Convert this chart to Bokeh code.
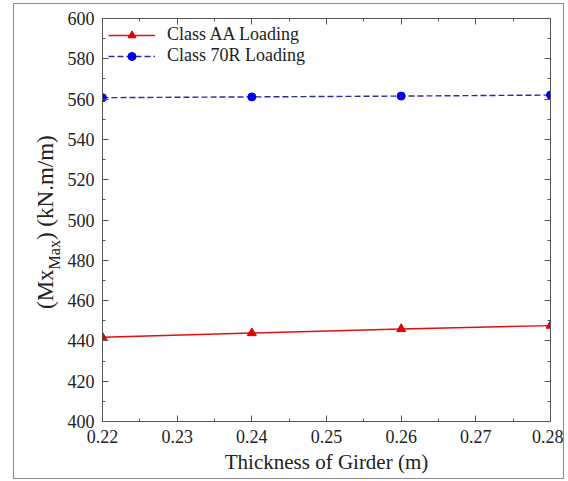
from bokeh.plotting import figure
from bokeh.models import (FixedTicker, LinearAxis, PrintfTickFormatter,
                          BasicTickFormatter, CustomJSTickFormatter, Range1d, Div)
from bokeh.layouts import row
from bokeh.embed import file_html
from bokeh.resources import INLINE

# ---- data ----
thickness = [0.22, 0.24, 0.26, 0.28]
class_aa = [441.8, 443.9, 445.9, 447.6]
class_70r = [560.7, 561.1, 561.5, 562.0]
series_names = ["Class AA Loading", "Class 70R Loading"]
x_ticks = [0.22, 0.23, 0.24, 0.25, 0.26, 0.27, 0.28]
x_minor = [0.22 + 0.005 * i for i in range(13)]
y_ticks = [400, 420, 440, 460, 480, 500, 520, 540, 560, 580, 600]
y_minor = list(range(400, 601, 10))
x_title = "Thickness of Girder (m)"
y_title_main, y_title_sub, y_title_tail = "(Mx", "Max", ") (kN.m/m)"

FONT = "Liberation Serif"
TICK_FONT = "'Liberation Serif'"
AX = "#555555"
TXT = "#222222"

p = figure(width=499, height=474, output_backend="svg", toolbar_location=None,
           x_range=Range1d(0.22, 0.28), y_range=Range1d(400, 600),
           x_axis_location=None, y_axis_location=None,
           min_border_left=34, min_border_right=13, min_border_top=14,
           min_border_bottom=57)
p.background_fill_color = "white"
p.border_fill_color = "white"
p.outline_line_color = AX
p.grid.visible = False

p.line(thickness, class_aa, line_color="#e01010", line_width=1.4,
       legend_label=series_names[0])
p.scatter(thickness, class_aa, marker="triangle", size=9, fill_color="#e00000",
          line_color="#e00000", legend_label=series_names[0])
p.line(thickness, class_70r, line_color="#2a2aa8", line_width=1.4,
       line_dash="6 3", legend_label=series_names[1])
p.scatter(thickness, class_70r, marker="circle", size=8, fill_color="#0000ee",
          line_color="#0000ee", legend_label=series_names[1])

common = dict(axis_line_color=AX, major_tick_line_color=AX, minor_tick_line_color=AX,
              major_tick_in=6, major_tick_out=0, minor_tick_in=3, minor_tick_out=0)

xaxis = LinearAxis(ticker=FixedTicker(ticks=x_ticks, minor_ticks=x_minor),
                   formatter=PrintfTickFormatter(format="%.2f"),
                   major_label_standoff=8,
                   axis_label=x_title, axis_label_text_font=FONT,
                   axis_label_text_font_style="normal",
                   axis_label_text_font_size="21px",
                   axis_label_text_color=TXT, axis_label_standoff=4, **common)
p.add_layout(xaxis, "below")

yaxis = LinearAxis(ticker=FixedTicker(ticks=y_ticks, minor_ticks=y_minor),
                   formatter=BasicTickFormatter(),
                   major_label_standoff=8, **common)
p.add_layout(yaxis, "left")

top = LinearAxis(ticker=FixedTicker(ticks=x_ticks, minor_ticks=x_minor),
                 formatter=CustomJSTickFormatter(code="return ''"),
                 major_label_standoff=0, **common)
p.add_layout(top, "above")
right = LinearAxis(ticker=FixedTicker(ticks=y_ticks, minor_ticks=y_minor),
                   formatter=CustomJSTickFormatter(code="return ''"),
                   major_label_standoff=0, **common)
p.add_layout(right, "right")

# tick label styling (set after the axes exist)
p.xaxis.major_label_text_font = TICK_FONT
p.yaxis.major_label_text_font = TICK_FONT
p.xaxis.major_label_text_font_size = "18px"
p.yaxis.major_label_text_font_size = "18px"
p.xaxis.major_label_text_color = TXT
p.yaxis.major_label_text_color = TXT

lg = p.legend[0]
lg.location = "top_left"
lg.border_line_color = None
lg.background_fill_alpha = 0
lg.margin = 6
lg.padding = 6
lg.spacing = 0
lg.glyph_width = 47
lg.glyph_height = 20
lg.label_height = 20
lg.label_standoff = 12
lg.label_text_font = FONT
lg.label_text_font_size = "18px"
lg.label_text_color = TXT

# rotated y title with a real subscript, as HTML text
title_html = (
    '<div style="position:relative;width:50px;height:474px;overflow:visible;">'
    '<div style="position:absolute;left:20px;top:305px;transform-origin:0 0;'
    'transform:rotate(-90deg);white-space:nowrap;font-family:\'Liberation Serif\',serif;'
    f'font-size:23px;line-height:23px;color:{TXT};">'
    f'{y_title_main}<span style="font-size:16px;position:relative;top:7px;">'
    f'{y_title_sub}</span>{y_title_tail}</div></div>'
)
ytitle = Div(text=title_html, width=50, height=474,
             styles={"overflow": "visible", "margin": "0", "padding": "0"})

layout = row(ytitle, p)
layout.styles = {"border": "1px solid #8a8a8a", "margin-left": "13px",
                 "margin-top": "3px", "background-color": "white"}

open("out.html", "w").write(file_html(layout, INLINE))
